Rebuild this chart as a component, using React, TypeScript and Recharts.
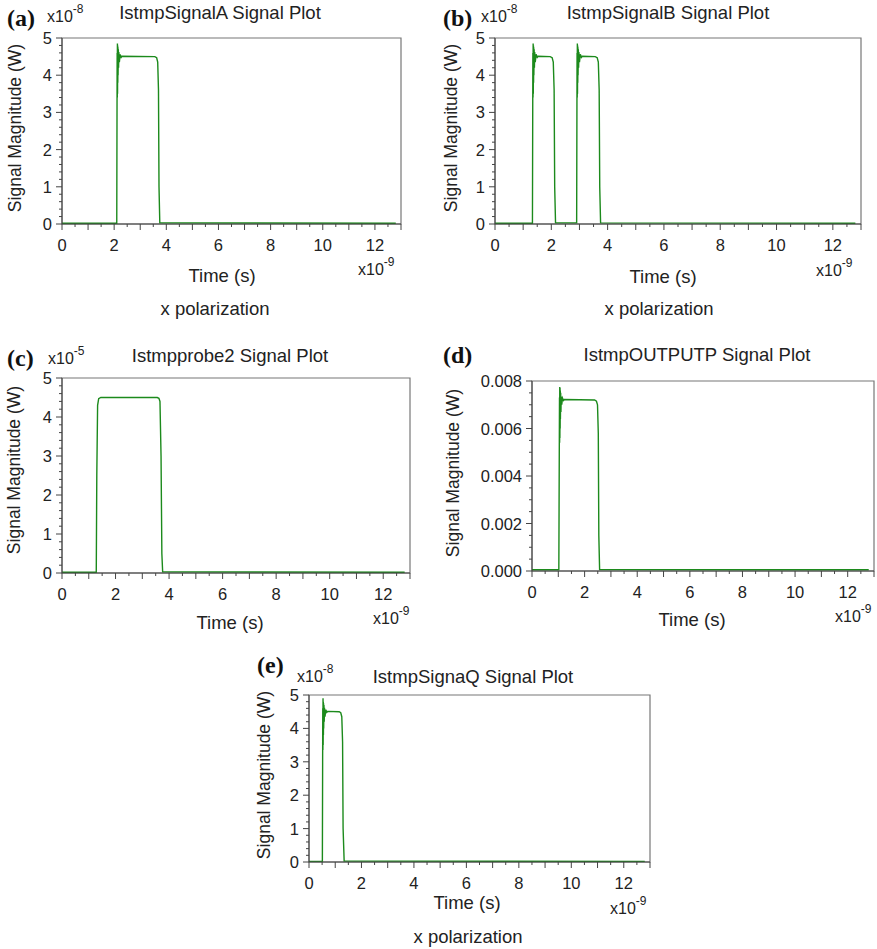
import React from 'react';
import { LineChart, Line, XAxis, YAxis, ReferenceArea } from 'recharts';

// time axis, in units of 1e-9 s
const X_TICKS = [0, 0.5, 1, 1.5, 2, 2.5, 3, 3.5, 4, 4.5, 5, 5.5, 6, 6.5, 7, 7.5, 8, 8.5, 9, 9.5, 10, 10.5, 11, 11.5, 12, 12.5, 13];
const Y_TICKS = [0, 0.2, 0.4, 0.6, 0.8, 1, 1.2, 1.4, 1.6, 1.8, 2, 2.2, 2.4, 2.6, 2.8, 3, 3.2, 3.4, 3.6, 3.8, 4, 4.2, 4.4, 4.6, 4.8, 5];
const Y_TICKS_D = [0, 0.0005, 0.001, 0.0015, 0.002, 0.0025, 0.003, 0.0035, 0.004, 0.0045, 0.005, 0.0055, 0.006, 0.0065, 0.007, 0.0075, 0.008];

// (a) IstmpSignalA, x1e-8 W
const T_A = [0, 2.1, 2.115, 2.12, 2.125, 2.13, 2.135, 2.14, 2.145, 2.15, 2.16, 2.17, 2.18, 2.2, 2.23, 2.27, 2.3, 3.56, 3.63, 3.67, 3.7, 3.72, 3.75, 12.8];
const V_A = [0.02, 0.02, 4.6, 3.4, 4.85, 3.5, 4.8, 3.8, 4.75, 4.0, 4.7, 4.2, 4.62, 4.35, 4.56, 4.48, 4.51, 4.5, 4.47, 4.35, 3.6, 1.0, 0.03, 0.02];

// (b) IstmpSignalB, x1e-8 W
const T_B = [0, 1.33, 1.345, 1.35, 1.355, 1.36, 1.365, 1.37, 1.375, 1.38, 1.39, 1.4, 1.41, 1.43, 1.46, 1.5, 1.53, 1.96, 2.03, 2.07, 2.1, 2.12, 2.15, 2.9, 2.915, 2.92, 2.925, 2.93, 2.935, 2.94, 2.945, 2.95, 2.96, 2.97, 2.98, 3.0, 3.03, 3.07, 3.1, 3.56, 3.63, 3.67, 3.7, 3.72, 3.75, 12.8];
const V_B = [0.02, 0.02, 4.6, 3.4, 4.85, 3.5, 4.8, 3.8, 4.75, 4.0, 4.7, 4.2, 4.62, 4.35, 4.56, 4.48, 4.51, 4.5, 4.47, 4.35, 3.6, 1.0, 0.03, 0.03, 4.6, 3.4, 4.85, 3.5, 4.8, 3.8, 4.75, 4.0, 4.7, 4.2, 4.62, 4.35, 4.56, 4.48, 4.51, 4.5, 4.47, 4.35, 3.6, 1.0, 0.03, 0.02];

// (c) Istmpprobe2, x1e-5 W
const T_C = [0, 1.28, 1.3, 1.33, 1.37, 1.45, 3.56, 3.62, 3.66, 3.7, 3.73, 3.76, 12.8];
const V_C = [0.02, 0.02, 2.5, 4.3, 4.47, 4.5, 4.5, 4.48, 4.4, 3.0, 0.5, 0.03, 0.02];

// (d) IstmpOUTPUTP, W
const T_D = [0, 1.02, 1.045, 1.05, 1.055, 1.06, 1.065, 1.07, 1.075, 1.08, 1.09, 1.1, 1.11, 1.13, 1.16, 1.2, 1.23, 2.38, 2.45, 2.49, 2.52, 2.54, 2.57, 12.8];
const V_D = [0.00005, 0.00005, 0.0073, 0.0054, 0.00775, 0.0056, 0.0077, 0.006, 0.0076, 0.0064, 0.0075, 0.0067, 0.00735, 0.0070, 0.00728, 0.00718, 0.00722, 0.0072, 0.00715, 0.007, 0.0058, 0.0015, 0.00006, 0.00005];

// (e) IstmpSignaQ, x1e-8 W
const T_E = [0, 0.51, 0.525, 0.53, 0.535, 0.54, 0.545, 0.55, 0.555, 0.56, 0.57, 0.58, 0.59, 0.61, 0.64, 0.68, 0.71, 1.15, 1.21, 1.25, 1.28, 1.3, 1.34, 12.8];
const V_E = [0.02, 0.02, 4.6, 3.35, 4.9, 3.5, 4.8, 3.8, 4.75, 4.0, 4.7, 4.2, 4.62, 4.35, 4.56, 4.48, 4.51, 4.5, 4.47, 4.35, 3.6, 1.0, 0.03, 0.02];

const FONT = '"Liberation Sans", Arial, sans-serif';
const GREEN = '#1c8a1c';
const TICK_FS = 16.5;
const LABEL_FS = 18.5;

const zip = (t: number[], v: number[]) => t.map((x, i) => ({ t: x, v: v[i] }));

const isInt = (v: number) => Math.abs(v - Math.round(v)) < 1e-9;

function XTick(props: any) {
  const { x, y, payload } = props;
  const v = payload.value;
  const major = isInt(v);
  const label = major && Math.round(v) % 2 === 0 && v < 13;
  return (
    <g>
      <line x1={x} y1={y} x2={x} y2={y + (major ? 6 : 3)} stroke="#444" />
      {label && (
        <text x={x} y={y + 27} textAnchor="middle" fontSize={TICK_FS} fontFamily={FONT} fill="#222">
          {Math.round(v)}
        </text>
      )}
    </g>
  );
}

function YTick(props: any) {
  const { x, y, payload, step, fmt } = props;
  const v = payload.value;
  const major = isInt(v / step);
  return (
    <g>
      <line x1={x} y1={y} x2={x - (major ? 6 : 3)} y2={y} stroke="#444" />
      {major && (
        <text x={x - 10} y={y + 6} textAnchor="end" fontSize={TICK_FS} fontFamily={FONT} fill="#222">
          {fmt(v)}
        </text>
      )}
    </g>
  );
}

type Box = { L: number; T: number; R: number; B: number };

function Panel({ box, data, yMax, yTicks, step, fmt }: { box: Box; data: any[]; yMax: number; yTicks: number[]; step: number; fmt: (v: number) => string }) {
  const padL = 70, padT = 10, padR = 12, padB = 40;
  const { L, T, R, B } = box;
  return (
    <div style={{ position: 'absolute', left: L - padL, top: T - padT }}>
      <LineChart
        width={R - L + padL + padR}
        height={B - T + padT + padB}
        data={data}
        margin={{ top: padT, right: padR, left: 0, bottom: 0 }}
      >
        <XAxis
          type="number"
          dataKey="t"
          domain={[0, 13]}
          ticks={X_TICKS}
          interval={0}
          tickSize={0}
          tickMargin={0}
          tick={<XTick />}
          height={padB}
          stroke="#444"
          allowDataOverflow
        />
        <YAxis
          type="number"
          domain={[0, yMax]}
          ticks={yTicks}
          interval={0}
          tickSize={0}
          tickMargin={0}
          tick={<YTick step={step} fmt={fmt} />}
          width={padL}
          stroke="#444"
          allowDataOverflow
        />
        <ReferenceArea x1={0} x2={13} y1={0} y2={yMax} fill="none" stroke="#777" strokeWidth={1.2} />
        <Line type="linear" dataKey="v" stroke={GREEN} strokeWidth={1.4} dot={false} isAnimationActive={false} />
      </LineChart>
    </div>
  );
}

function Txt({ x, y, anchor = 'middle', size = LABEL_FS, rotate = false, style, children }: any) {
  const tx = anchor === 'middle' ? '-50%' : '0';
  return (
    <div
      style={{
        position: 'absolute',
        left: x,
        top: y,
        transform: `translate(${tx}, -50%)${rotate ? ' rotate(-90deg)' : ''}`,
        transformOrigin: anchor === 'middle' ? 'center' : 'left center',
        fontFamily: FONT,
        fontSize: size,
        lineHeight: 1,
        whiteSpace: 'nowrap',
        color: '#222',
        ...style,
      }}
    >
      {children}
    </div>
  );
}

function Tag({ x, y, children }: any) {
  return (
    <Txt x={x} y={y} anchor="start" size={24} style={{ fontFamily: '"Liberation Serif", "Times New Roman", serif', fontWeight: 'bold', color: '#111' }}>
      {children}
    </Txt>
  );
}

function Exp({ x, y, p }: any) {
  return (
    <Txt x={x} y={y} anchor="start" size={16}>
      x10<sup style={{ fontSize: 12, position: 'relative', top: -2 }}>{p}</sup>
    </Txt>
  );
}

const intFmt = (v: number) => String(Math.round(v));
const dFmt = (v: number) => v.toFixed(3);

export default function App() {
  return (
    <div style={{ position: 'absolute', left: 0, top: 0, width: 877, height: 949, background: '#fff', overflow: 'hidden' }}>
      {/* (a) */}
      <Panel box={{ L: 62, T: 38, R: 401, B: 224 }} data={zip(T_A, V_A)} yMax={5} yTicks={Y_TICKS} step={1} fmt={intFmt} />
      <Tag x={7} y={18}>(a)</Tag>
      <Exp x={47} y={15} p="-8" />
      <Txt x={220} y={13}>IstmpSignalA Signal Plot</Txt>
      <Txt x={16} y={128} size={17.5} rotate>Signal Magnitude (W)</Txt>
      <Txt x={222} y={276}>Time (s)</Txt>
      <Exp x={358} y={268} p="-9" />
      <Txt x={215} y={309}>x polarization</Txt>

      {/* (b) */}
      <Panel box={{ L: 495, T: 38, R: 861, B: 224 }} data={zip(T_B, V_B)} yMax={5} yTicks={Y_TICKS} step={1} fmt={intFmt} />
      <Tag x={443} y={18}>(b)</Tag>
      <Exp x={481} y={15} p="-8" />
      <Txt x={668} y={13}>IstmpSignalB Signal Plot</Txt>
      <Txt x={452} y={128} size={17.5} rotate>Signal Magnitude (W)</Txt>
      <Txt x={663} y={277}>Time (s)</Txt>
      <Exp x={816} y={269} p="-9" />
      <Txt x={659} y={309}>x polarization</Txt>

      {/* (c) */}
      <Panel box={{ L: 62, T: 378, R: 410, B: 573 }} data={zip(T_C, V_C)} yMax={5} yTicks={Y_TICKS} step={1} fmt={intFmt} />
      <Tag x={7} y={358}>(c)</Tag>
      <Exp x={48} y={357} p="-5" />
      <Txt x={230} y={356}>Istmpprobe2 Signal Plot</Txt>
      <Txt x={15} y={470} size={17.5} rotate>Signal Magnitude (W)</Txt>
      <Txt x={230} y={623}>Time (s)</Txt>
      <Exp x={373} y={617} p="-9" />

      {/* (d) */}
      <Panel box={{ L: 532, T: 381, R: 874, B: 571 }} data={zip(T_D, V_D)} yMax={0.008} yTicks={Y_TICKS_D} step={0.002} fmt={dFmt} />
      <Tag x={443} y={355}>(d)</Tag>
      <Txt x={697} y={355}>IstmpOUTPUTP Signal Plot</Txt>
      <Txt x={454} y={473} size={17.5} rotate>Signal Magnitude (W)</Txt>
      <Txt x={692} y={620}>Time (s)</Txt>
      <Exp x={835} y={615} p="-9" />

      {/* (e) */}
      <Panel box={{ L: 309, T: 695, R: 650, B: 862 }} data={zip(T_E, V_E)} yMax={5} yTicks={Y_TICKS} step={1} fmt={intFmt} />
      <Tag x={257} y={665}>(e)</Tag>
      <Exp x={297} y={675} p="-8" />
      <Txt x={473} y={677}>IstmpSignaQ Signal Plot</Txt>
      <Txt x={265} y={775} size={17.5} rotate>Signal Magnitude (W)</Txt>
      <Txt x={467} y={903}>Time (s)</Txt>
      <Exp x={610} y={907} p="-9" />
      <Txt x={468} y={937}>x polarization</Txt>
    </div>
  );
}
